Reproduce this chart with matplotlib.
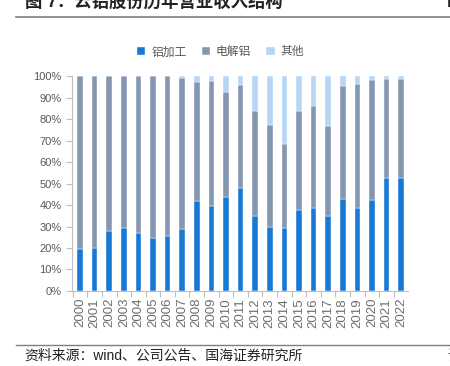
import matplotlib.pyplot as plt
import numpy as np
from matplotlib.ticker import FixedLocator, PercentFormatter

plt.rcParams['font.family'] = ['Liberation Sans', 'Noto Sans CJK SC', 'DejaVu Sans']

# 年份与各业务占比（%）
years = [str(y) for y in range(2000, 2023)]
lv_jiagong = [19.5, 20.2, 27.7, 29.4, 26.8, 24.5, 25.4, 29.0, 41.7, 39.6, 43.6, 47.8,
              34.7, 29.8, 29.2, 37.6, 38.5, 34.7, 42.6, 38.5, 42.2, 52.7, 52.7]
# 累计到电解铝的顶部
leiji_dianjie = [100, 100, 100, 100, 100, 100, 100, 98.9, 97.2, 97.7, 92.7, 95.8,
                 83.9, 77.4, 68.2, 83.6, 86.0, 76.9, 95.3, 96.3, 98.3, 98.8, 98.8]

dianjie = [t - a for t, a in zip(leiji_dianjie, lv_jiagong)]
qita = [100 - t for t in leiji_dianjie]

c_blue = '#1878D5'
c_gray = '#8497B0'
c_light = '#B7D6F6'
c_text = '#595959'

fig = plt.figure(figsize=(4.5, 3.66), dpi=100)
ax = fig.add_axes([0.16, 0.205, 0.747, 0.587])

x = np.arange(len(years))
w = 0.39
ax.bar(x, lv_jiagong, w, color=c_blue, label='铝加工', edgecolor='white', linewidth=0.3)
ax.bar(x, dianjie, w, bottom=lv_jiagong, color=c_gray, label='电解铝', edgecolor='white', linewidth=0.3)
ax.bar(x, qita, w, bottom=leiji_dianjie, color=c_light, label='其他', edgecolor='white', linewidth=0.3)

ax.set_xlim(-0.55, len(years) - 0.52)
ax.set_ylim(0, 100)
ax.yaxis.set_major_locator(FixedLocator(range(0, 101, 10)))
ax.yaxis.set_major_formatter(PercentFormatter(decimals=0))

ax.set_xticks(x)
ax.set_xticklabels(years, rotation=90)
ax.xaxis.set_minor_locator(FixedLocator(np.arange(-0.5, len(years), 1.0)))
ax.tick_params(axis='x', which='major', length=0, pad=5, labelsize=9.5, labelcolor='#6E6E6E')
ax.tick_params(axis='x', which='minor', length=4, color='#BFBFBF', width=0.8)
ax.tick_params(axis='y', length=4, color='#BFBFBF', width=0.8, labelsize=8, labelcolor=c_text)

for s in ['top', 'right']:
    ax.spines[s].set_visible(False)
for s in ['left', 'bottom']:
    ax.spines[s].set_color('#BFBFBF')
    ax.spines[s].set_linewidth(0.8)

leg = fig.legend(loc='center', bbox_to_anchor=(0.49, 0.857), ncol=3, frameon=False,
                 fontsize=8.5, handlelength=0.7, handleheight=0.7, handletextpad=0.5,
                 columnspacing=1.3)
for t in leg.get_texts():
    t.set_color(c_text)

# 标题与来源
fig.text(0.055, 0.997, '图 7：云铝股份历年营业收入结构', fontsize=12.5, fontweight='bold',
         va='center', ha='left', color='#222222')
fig.text(0.993, 0.997, '图', fontsize=12, fontweight='bold', va='center', ha='left', color='#222222')
fig.add_artist(plt.Line2D([0.035, 1.0], [0.953, 0.953], color='#7F7F7F', linewidth=1.2))
fig.add_artist(plt.Line2D([0.035, 1.0], [0.057, 0.057], color='#7F7F7F', linewidth=1.0))
fig.text(0.055, 0.027, '资料来源：wind、公司公告、国海证券研究所', fontsize=10,
         va='center', ha='left', color='#222222')
fig.text(0.993, 0.027, '证', fontsize=10, va='center', ha='left', color='#222222')

fig.savefig('out.png', dpi=100)
